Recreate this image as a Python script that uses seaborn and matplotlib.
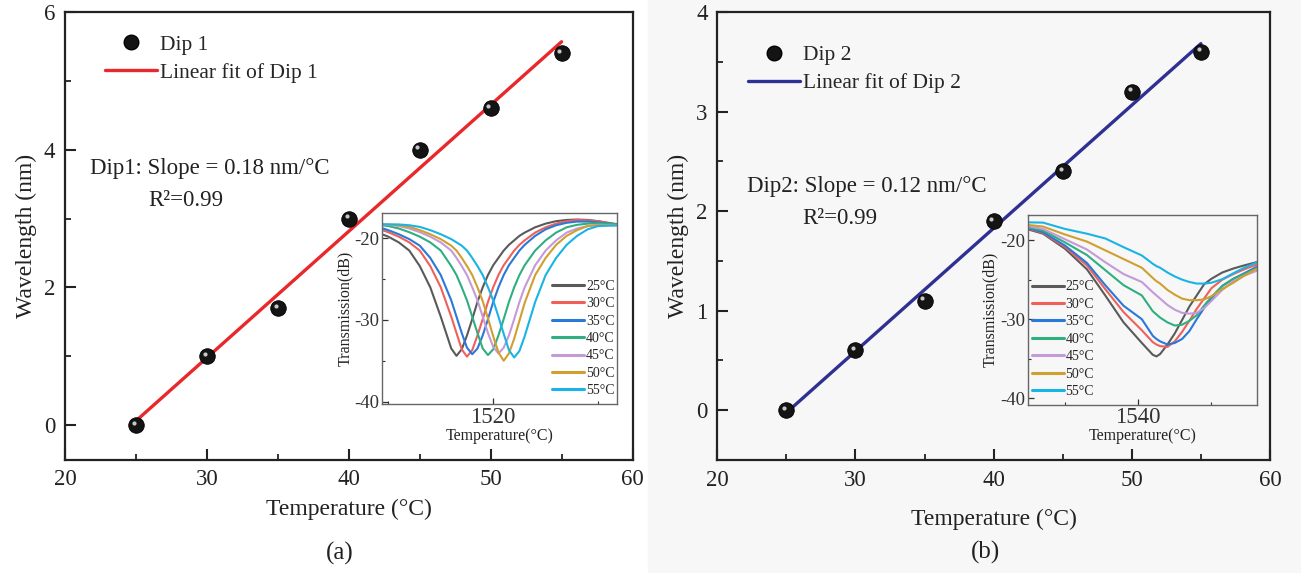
import numpy as np
import pandas as pd
import matplotlib
matplotlib.use("Agg")
import matplotlib.pyplot as plt
import seaborn as sns
from matplotlib.lines import Line2D
from matplotlib.patches import Rectangle
from matplotlib.transforms import offset_copy
from matplotlib.ticker import MultipleLocator

# ---------------- data ----------------
temperature = [25, 30, 35, 40, 45, 50, 55]
dip1_shift = [0.0, 1.0, 1.7, 3.0, 4.0, 4.6, 5.4]
dip2_shift = [0.0, 0.6, 1.1, 1.9, 2.4, 3.2, 3.6]

temp_labels = ["25°C", "30°C", "35°C", "40°C", "45°C", "50°C", "55°C"]

# inset (a): transmission spectra around Dip 1
wl_a = [1509, 1510, 1511, 1512, 1513, 1514, 1515, 1516, 1516.5, 1517, 1517.5, 1518,
        1518.5, 1519, 1519.5, 1520, 1520.5, 1521, 1521.5, 1522, 1522.5, 1523, 1524,
        1525, 1526, 1527, 1528, 1529, 1530, 1532]
spec_a_25 = [-19.3, -19.8, -20.5, -21.5, -23.4, -26.0, -29.6, -33.5, -34.4, -33.6, -31.9, -29.9,
             -27.8, -26.0, -24.5, -23.3, -22.4, -21.5, -20.8, -20.25, -19.7, -19.3, -18.65,
             -18.2, -17.9, -17.75, -17.7, -17.75, -17.9, -18.4]
spec_a_30 = [-18.8, -19.25, -19.8, -20.5, -21.5, -23.4, -26.0, -29.6, -31.6, -33.6, -34.5, -33.7,
             -31.9, -29.9, -27.8, -26.0, -24.5, -23.3, -22.4, -21.5, -20.8, -20.25, -19.3,
             -18.65, -18.2, -17.9, -17.75, -17.8, -17.9, -18.3]
spec_a_35 = [-18.6, -19.0, -19.5, -20.1, -20.9, -22.4, -24.5, -27.6, -29.6, -31.6, -33.4, -34.2,
             -33.5, -31.9, -29.9, -27.8, -26.0, -24.5, -23.3, -22.4, -21.5, -20.8, -19.7,
             -18.9, -18.4, -18.1, -17.95, -17.95, -18.05, -18.3]
spec_a_40 = [-18.35, -18.5, -18.8, -19.25, -19.8, -20.5, -21.5, -23.4, -24.5, -26.0, -27.6, -29.6,
             -31.6, -33.5, -34.3, -33.6, -31.9, -29.9, -27.8, -26.0, -24.5, -23.3, -21.5,
             -20.25, -19.3, -18.65, -18.35, -18.2, -18.15, -18.3]
spec_a_45 = [-18.3, -18.35, -18.5, -18.8, -19.25, -19.8, -20.5, -21.5, -22.4, -23.4, -24.5, -26.0,
             -27.6, -29.6, -31.6, -33.3, -34.1, -33.4, -31.9, -29.9, -27.8, -26.0, -23.3,
             -21.5, -20.25, -19.3, -18.8, -18.5, -18.35, -18.4]
spec_a_50 = [-18.3, -18.3, -18.4, -18.6, -19.0, -19.5, -20.1, -20.9, -21.5, -22.4, -23.4, -24.5,
             -26.0, -27.7, -29.8, -32.0, -34.0, -35.0, -34.1, -32.3, -30.1, -27.9, -24.5,
             -22.4, -20.8, -19.7, -19.0, -18.5, -18.4, -18.4]
spec_a_55 = [-18.3, -18.3, -18.3, -18.4, -18.6, -19.0, -19.5, -20.1, -20.5, -20.9, -21.5, -22.4,
             -23.4, -24.5, -26.0, -27.6, -29.6, -31.7, -33.7, -34.6, -33.8, -32.0, -27.8,
             -24.5, -22.4, -20.8, -19.7, -18.9, -18.5, -18.4]

# inset (b): transmission spectra around Dip 2
wl_b = [1524, 1527, 1530, 1533, 1535.5, 1538, 1540.5, 1542, 1542.5, 1543, 1544, 1545,
        1546, 1547, 1548, 1549, 1550, 1551.5, 1553, 1554.5, 1557]
spec_b_25 = [-18.4, -19.2, -21.1, -23.7, -27.0, -30.4, -33.0, -34.5, -34.7, -34.4, -33.2, -31.8,
             -30.1, -28.4, -27.0, -25.6, -24.9, -24.1, -23.6, -23.2, -22.6]
spec_b_30 = [-18.3, -19.1, -20.9, -23.2, -26.2, -29.1, -31.4, -32.9, -33.2, -33.4, -33.5, -32.8,
             -31.6, -30.2, -28.7, -27.4, -26.1, -25.0, -24.3, -23.7, -22.8]
spec_b_35 = [-18.25, -19.0, -20.7, -22.9, -25.7, -28.3, -30.0, -32.1, -32.5, -32.8, -33.2, -33.0,
             -32.5, -31.5, -30.0, -28.6, -27.4, -25.8, -24.9, -24.2, -23.0]
spec_b_40 = [-18.2, -18.8, -20.3, -21.9, -23.8, -25.7, -27.0, -29.0, -29.4, -29.8, -30.4, -30.8,
             -30.7, -30.2, -29.5, -28.3, -27.2, -25.8, -24.9, -24.3, -23.2]
spec_b_45 = [-18.1, -18.6, -19.9, -21.2, -22.8, -24.3, -25.3, -26.6, -27.0, -27.4, -28.2, -28.8,
             -29.2, -29.3, -29.2, -28.6, -27.7, -26.3, -25.2, -24.5, -23.6]
spec_b_50 = [-18.0, -18.3, -19.3, -20.2, -21.3, -22.4, -23.5, -24.8, -25.2, -25.5, -26.3, -26.9,
             -27.4, -27.6, -27.6, -27.5, -27.1, -26.2, -25.4, -24.5, -23.2]
spec_b_55 = [-17.75, -17.8, -18.6, -19.2, -19.8, -20.9, -21.95, -23.0, -23.3, -23.5, -24.1, -24.6,
             -25.0, -25.3, -25.5, -25.5, -25.4, -24.95, -24.2, -23.5, -22.5]

spec_colors = ["#5a5a5a", "#f0605a", "#2a78d8", "#2fae80", "#c49ad8", "#cfa030", "#1ab4e4"]

# ---------------- style ----------------
sns.set_theme(style="ticks")
plt.rcParams["font.family"] = ["Liberation Serif", "DejaVu Serif"]
plt.rcParams["axes.unicode_minus"] = False

W, H = 1301, 573
BG_B = "#f7f7f7"
fig = plt.figure(figsize=(W / 100, H / 100), dpi=100)
fig.patch.set_facecolor("white")
fig.add_artist(Rectangle((648 / W, 0), 1 - 648 / W, 1, transform=fig.transFigure,
                         color=BG_B, zorder=-10))


def fx(px):
    return px / W


def fy(py):
    return 1 - py / H


def main_panel(ax, y, color, name, ylim, ymaj, ymin, leg_anchor, xlabelpad):
    ax.patch.set_alpha(0)
    sns.regplot(x=temperature, y=y, ax=ax, scatter=False, ci=None, truncate=True,
                color=color, line_kws=dict(lw=2.4, zorder=2))
    sns.scatterplot(x=temperature, y=y, ax=ax, color="#141414", s=125,
                    edgecolor="#000000", linewidth=0.6, zorder=3)
    hl = offset_copy(ax.transData, fig=fig, x=-1.6, y=1.8, units="points")
    ax.scatter(temperature, y, s=9, color="#c8c8c8", transform=hl, zorder=4, linewidths=0)
    ax.set_xlim(20, 60)
    ax.set_ylim(*ylim)
    ax.xaxis.set_major_locator(MultipleLocator(10))
    ax.xaxis.set_minor_locator(MultipleLocator(5))
    ax.yaxis.set_major_locator(MultipleLocator(ymaj))
    ax.yaxis.set_minor_locator(MultipleLocator(ymin))
    ax.tick_params(which="major", direction="in", length=8, width=1.5, labelsize=16.5,
                   pad=7, colors="#222222")
    ax.tick_params(which="minor", direction="in", length=4.5, width=1.3, colors="#222222")
    for s in ax.spines.values():
        s.set_linewidth(1.6)
        s.set_color("#222222")
        s.set_visible(True)
    ax.set_xlabel("Temperature (°C)", fontsize=17, labelpad=xlabelpad, color="#222222")
    ax.set_ylabel("Wavelength (nm)", fontsize=17, labelpad=5, color="#222222")
    handles = [Line2D([0], [0], marker="o", ls="none", mfc="#141414", mec="#000000", ms=10.5),
               Line2D([0], [0], color=color, lw=2.4)]
    labels = [f"Dip {name}", f"Linear fit of Dip {name}"]
    ax.legend(handles, labels, loc="upper left", bbox_to_anchor=leg_anchor, frameon=False,
              fontsize=15.5, handlelength=2.4, handletextpad=0.15, labelspacing=0.36,
              borderpad=0, borderaxespad=0)


ax_a = fig.add_axes([fx(65), fy(459.5), fx(632.5 - 65), (459.5 - 12) / H])
ax_b = fig.add_axes([fx(717.3), fy(460), fx(1270 - 717.3), (460 - 12) / H])

main_panel(ax_a, dip1_shift, "#e8282a", "1", (-0.5, 6), 2, 1, (0.0705, 0.949), 6)
main_panel(ax_b, dip2_shift, "#2e3192", "2", (-0.5, 4), 1, 0.5, (0.0555, 0.926), 13)

ax_a.text(0.044, 0.651, "Dip1: Slope = 0.18 nm/°C", transform=ax_a.transAxes,
          fontsize=16.5, va="center", ha="left", color="#222222")
ax_a.text(0.146, 0.578, "R²=0.99", transform=ax_a.transAxes,
          fontsize=16.5, va="center", ha="left", color="#222222")
ax_b.text(0.053, 0.610, "Dip2: Slope = 0.12 nm/°C", transform=ax_b.transAxes,
          fontsize=16.5, va="center", ha="left", color="#222222")
ax_b.text(0.1545, 0.540, "R²=0.99", transform=ax_b.transAxes,
          fontsize=16.5, va="center", ha="left", color="#222222")

fig.text(fx(340), fy(553), "(a)", ha="center", va="center", fontsize=18, color="#222222")
fig.text(fx(985), fy(552), "(b)", ha="center", va="center", fontsize=18, color="#222222")


def inset_panel(ax, wl, specs, xlim, ylim, leg_loc, leg_anchor, facecolor):
    ax.set_facecolor(facecolor)
    for vals, col in zip(specs, spec_colors):
        sns.lineplot(x=wl, y=vals, ax=ax, color=col, linewidth=1.5, legend=False)
    ax.set_xlim(*xlim)
    ax.set_ylim(*ylim)
    ax.xaxis.set_major_locator(MultipleLocator(20))
    ax.xaxis.set_minor_locator(MultipleLocator(10))
    ax.yaxis.set_major_locator(MultipleLocator(10))
    ax.yaxis.set_minor_locator(MultipleLocator(5))
    ax.tick_params(which="major", direction="in", length=4, width=0.9, pad=2, colors="#333333")
    ax.tick_params(which="minor", direction="in", length=2.5, width=0.8, colors="#333333")
    ax.tick_params(axis="x", labelsize=16.5)
    ax.tick_params(axis="y", labelsize=13.5)
    for s in ax.spines.values():
        s.set_linewidth(1.0)
        s.set_color("#666666")
    ax.set_xlabel("Temperature(°C)", fontsize=11.5, labelpad=0, color="#222222")
    ax.set_ylabel("Transmission(dB)", fontsize=11.5, labelpad=1, color="#222222")
    handles = [Line2D([0], [0], color=c, lw=2.2) for c in spec_colors]
    ax.legend(handles, temp_labels, loc=leg_loc, bbox_to_anchor=leg_anchor, frameon=False,
              fontsize=10, handlelength=2.3, handletextpad=0.15, labelspacing=0.32,
              borderpad=0, borderaxespad=0)


ins_a = fig.add_axes([fx(382), fy(404), fx(617 - 382), (404 - 213) / H])
ins_b = fig.add_axes([fx(1027.7), fy(404.7), fx(1256.7 - 1027.7), (404.7 - 214.7) / H])

inset_panel(ins_a, wl_a,
            [spec_a_25, spec_a_30, spec_a_35, spec_a_40, spec_a_45, spec_a_50, spec_a_55],
            (1509.4, 1531.8), (-40.3, -16.9), "lower right", (0.99, 0.035), "white")
inset_panel(ins_b, wl_b,
            [spec_b_25, spec_b_30, spec_b_35, spec_b_40, spec_b_45, spec_b_50, spec_b_55],
            (1524.9, 1556.2), (-40.8, -16.8), "lower left", (0.017, 0.035), BG_B)

fig.savefig("out.png", dpi=100)
